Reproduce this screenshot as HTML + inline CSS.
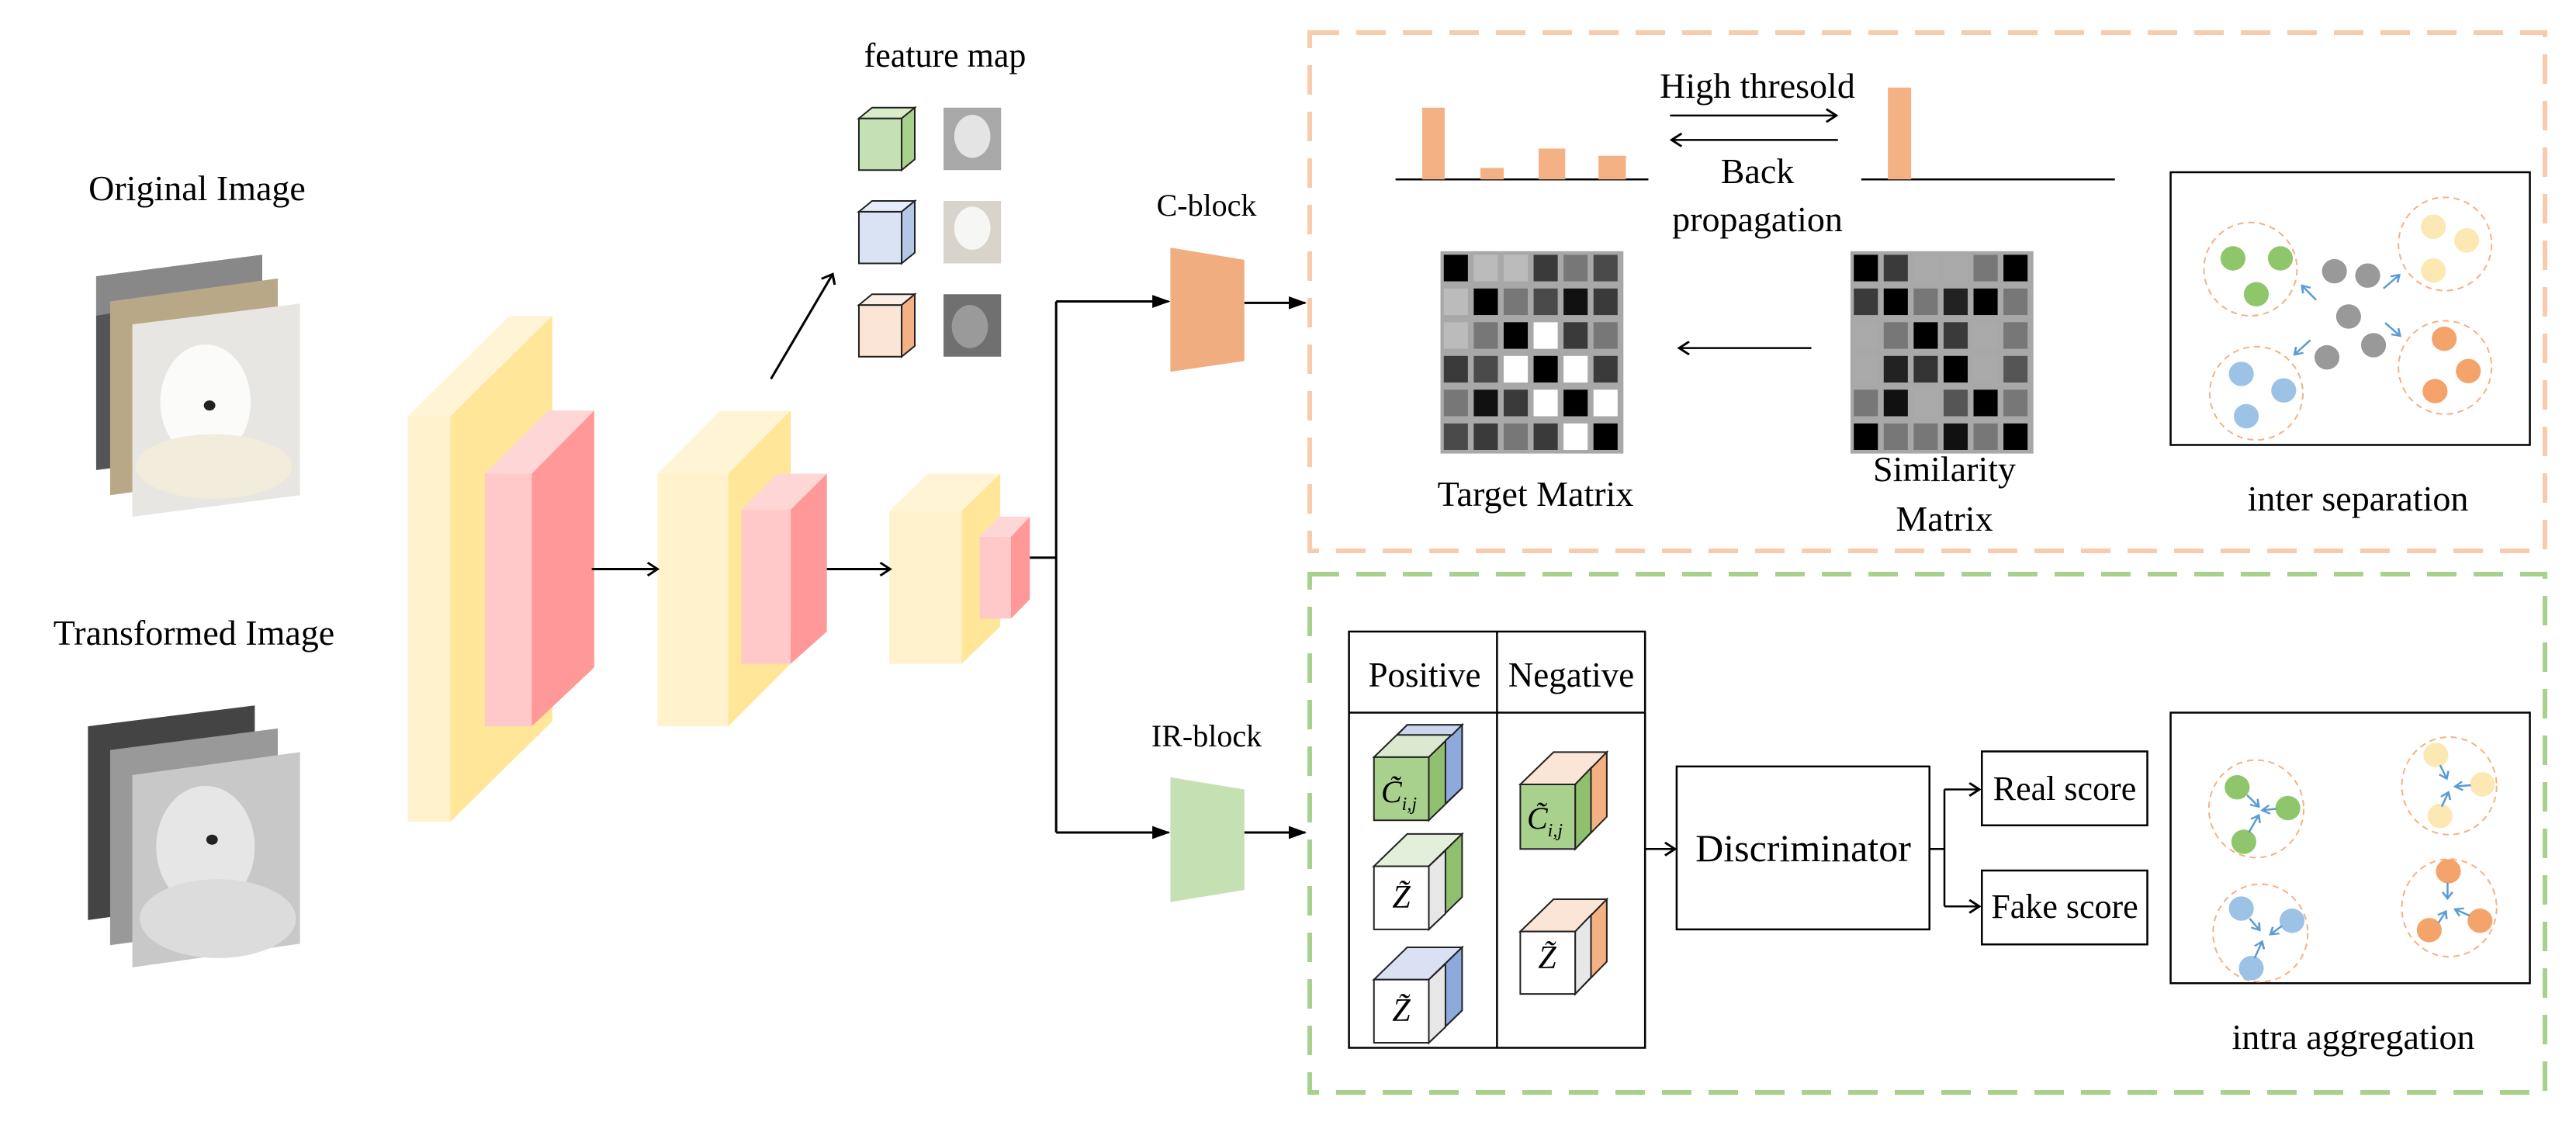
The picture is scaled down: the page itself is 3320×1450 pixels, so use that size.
<!DOCTYPE html>
<html><head><meta charset="utf-8"><style>
html,body{margin:0;padding:0;background:#fff;}
svg{display:block;}
svg text{font-family:"Liberation Serif","Times New Roman",Times,serif !important;fill:#000;}
</style></head><body>
<svg width="3320" height="1450" viewBox="0 0 3320 1450" xmlns="http://www.w3.org/2000/svg" font-family="'Liberation Serif', 'Times New Roman', serif">
<defs>
<marker id="fa" markerUnits="userSpaceOnUse" markerWidth="24" markerHeight="24" refX="20" refY="12" orient="auto"><path d="M0,3 L22,12 L0,21 Z" fill="#000"/></marker>
<marker id="oa" markerUnits="userSpaceOnUse" markerWidth="24" markerHeight="24" refX="18" refY="12" orient="auto"><path d="M6,3 L18,12 L6,21" fill="none" stroke="#000" stroke-width="3"/></marker>
<marker id="ba" markerUnits="userSpaceOnUse" markerWidth="16" markerHeight="16" refX="12" refY="8" orient="auto"><path d="M3,2 L12,8 L3,14" fill="none" stroke="#5b9bd5" stroke-width="2.5"/></marker>
</defs>

<g transform="scale(1.0593,0.925)">
 <polygon points="117,385 319,355 319,625 117,655" fill="#555"/>
 <polygon points="117,385 319,355 319,400 117,440" fill="#888"/>
 <polygon points="134,420 338,388 338,658 134,690" fill="#b8a888"/>
 <polygon points="161,452 365,423 365,690 161,720" fill="#e8e6e2"/>
 <ellipse cx="250" cy="560" rx="55" ry="80" fill="#fbfbf9"/>
 <ellipse cx="260" cy="650" rx="95" ry="45" fill="#f2ecdc"/>
 <circle cx="255" cy="565" r="7" fill="#222"/>
 <polygon points="107,1012 310,983 310,1250 107,1282" fill="#444"/>
 <polygon points="134,1045 338,1015 338,1285 134,1317" fill="#999"/>
 <polygon points="161,1080 365,1048 365,1315 161,1348" fill="#c8c8c8"/>
 <ellipse cx="250" cy="1180" rx="60" ry="85" fill="#e6e6e6"/>
 <ellipse cx="265" cy="1280" rx="95" ry="55" fill="#dcdcdc"/>
 <circle cx="258" cy="1170" r="7" fill="#222"/>

 <rect x="496" y="580" width="52" height="565" fill="#fff2cc"/>
 <polygon points="496,580 620,440 672,440 548,580" fill="#fff5d6"/>
 <polygon points="548,580 672,440 672,1005 548,1145" fill="#ffe699"/>
 <rect x="590" y="660" width="57" height="352" fill="#ffc9c9"/>
 <polygon points="590,660 667,572 723,572 647,660" fill="#ffd6d6"/>
 <polygon points="647,660 723,572 723,930 647,1012" fill="#ff9999"/>
 <rect x="800" y="660" width="86" height="352" fill="#fff2cc"/>
 <polygon points="800,660 876,572 962,572 886,660" fill="#fff5d6"/>
 <polygon points="886,660 962,572 962,925 886,1012" fill="#ffe699"/>
 <rect x="902" y="710" width="60" height="215" fill="#ffc9c9"/>
 <polygon points="902,710 946,660 1006,660 962,710" fill="#ffd6d6"/>
 <polygon points="962,710 1006,660 1006,880 962,925" fill="#ff9999"/>
 <rect x="1082" y="712" width="88" height="213" fill="#fff2cc"/>
 <polygon points="1082,712 1129,660 1217,660 1170,712" fill="#fff5d6"/>
 <polygon points="1170,712 1217,660 1217,873 1170,925" fill="#ffe699"/>
 <rect x="1192" y="748" width="38" height="114" fill="#ffc9c9"/>
 <polygon points="1192,748 1215,720 1253,720 1230,748" fill="#ffd6d6"/>
 <polygon points="1230,748 1253,720 1253,835 1230,862" fill="#ff9999"/>

 <g stroke="#222" stroke-width="2">
  <rect x="1045" y="165" width="52" height="72" fill="#c5e0b4" vector-effect="non-scaling-stroke"/>
  <polygon points="1045,165 1061,150 1113,150 1097,165" fill="#d9ecc9" vector-effect="non-scaling-stroke"/>
  <polygon points="1097,165 1113,150 1113,222 1097,237" fill="#a9d18e" vector-effect="non-scaling-stroke"/>
  <rect x="1045" y="295" width="52" height="72" fill="#dae3f3" vector-effect="non-scaling-stroke"/>
  <polygon points="1045,295 1061,280 1113,280 1097,295" fill="#e6ecf8" vector-effect="non-scaling-stroke"/>
  <polygon points="1097,295 1113,280 1113,352 1097,367" fill="#b4c7e7" vector-effect="non-scaling-stroke"/>
  <rect x="1045" y="425" width="52" height="72" fill="#fbe5d6" vector-effect="non-scaling-stroke"/>
  <polygon points="1045,425 1061,410 1113,410 1097,425" fill="#fdeee4" vector-effect="non-scaling-stroke"/>
  <polygon points="1097,425 1113,410 1113,482 1097,497" fill="#f4b183" vector-effect="non-scaling-stroke"/>
 </g>
 <rect x="1148" y="150" width="70" height="87" fill="#a8a8a8"/>
 <ellipse cx="1183" cy="190" rx="22" ry="30" fill="#e4e4e4"/>
 <rect x="1148" y="280" width="70" height="87" fill="#d8d4cc"/>
 <ellipse cx="1183" cy="318" rx="22" ry="30" fill="#f6f6f4"/>
 <rect x="1148" y="410" width="70" height="87" fill="#707070"/>
 <ellipse cx="1180" cy="455" rx="22" ry="30" fill="#9a9a9a"/>

 <g fill="none" stroke="#000" stroke-width="3">
  <line x1="720" y1="793" x2="800" y2="793" marker-end="url(#oa)" vector-effect="non-scaling-stroke"/>
  <line x1="1006" y1="793" x2="1083" y2="793" marker-end="url(#oa)" vector-effect="non-scaling-stroke"/>
  <line x1="938" y1="528" x2="1013" y2="382" marker-end="url(#oa)" vector-effect="non-scaling-stroke"/>
  <polyline points="1253,777 1285,777" vector-effect="non-scaling-stroke"/>
  <line x1="1285" y1="420" x2="1285" y2="1160" vector-effect="non-scaling-stroke"/>
  <line x1="1285" y1="420" x2="1422" y2="420" marker-end="url(#fa)" vector-effect="non-scaling-stroke"/>
  <line x1="1285" y1="1160" x2="1422" y2="1160" marker-end="url(#fa)" vector-effect="non-scaling-stroke"/>
  <line x1="1514" y1="422" x2="1588" y2="422" marker-end="url(#fa)" vector-effect="non-scaling-stroke"/>
  <line x1="1514" y1="1160" x2="1588" y2="1160" marker-end="url(#fa)" vector-effect="non-scaling-stroke"/>
 </g>
 <polygon points="1424,345 1514,362 1514,503 1424,518" fill="#f0ad7f"/>
 <polygon points="1424,1083 1514,1100 1514,1240 1424,1257" fill="#c5e0b3"/>
</g>

<text x="1218" y="86" font-size="44" text-anchor="middle">feature map</text>
<text x="254" y="258" font-size="46" text-anchor="middle">Original Image</text>
<text x="250" y="831" font-size="46" text-anchor="middle">Transformed Image</text>
<text x="1555" y="278" font-size="40" text-anchor="middle">C-block</text>
<text x="1555" y="962" font-size="40" text-anchor="middle">IR-block</text>

<rect x="1688" y="42" width="1592" height="668" fill="none" stroke="#f8cbad" stroke-width="6" stroke-dasharray="38 22"/>
<rect x="1688" y="740" width="1592" height="668" fill="none" stroke="#a9d18e" stroke-width="6" stroke-dasharray="38 22"/>

<g transform="translate(1640,0) scale(1.0718,0.925)">
 <g stroke="#000" stroke-width="2.5" fill="none">
  <line x1="148" y1="250" x2="452" y2="250" vector-effect="non-scaling-stroke"/>
  <line x1="708" y1="250" x2="1013" y2="250" vector-effect="non-scaling-stroke"/>
  <line x1="478" y1="161" x2="678" y2="161" marker-end="url(#oa)" vector-effect="non-scaling-stroke"/>
  <line x1="680" y1="195" x2="480" y2="195" marker-end="url(#oa)" vector-effect="non-scaling-stroke"/>
  <line x1="648" y1="485" x2="489" y2="485" marker-end="url(#oa)" vector-effect="non-scaling-stroke"/>
 </g>
 <g fill="#f4b183">
  <rect x="180" y="150" width="27" height="100"/>
  <rect x="250" y="234" width="28" height="16"/>
  <rect x="320" y="207" width="32" height="43"/>
  <rect x="392" y="217" width="33" height="33"/>
  <rect x="740" y="122" width="28" height="128"/>
 </g>
 <rect x="202" y="350" width="220" height="282" fill="#a8a8a8"/>
 <g transform="translate(202,350)">
  <rect x="4" y="5" width="29" height="37" fill="#000"/><rect x="40" y="5" width="29" height="37" fill="#bbb"/><rect x="76" y="5" width="29" height="37" fill="#bbb"/><rect x="112" y="5" width="29" height="37" fill="#3a3a3a"/><rect x="148" y="5" width="29" height="37" fill="#777"/><rect x="184" y="5" width="29" height="37" fill="#4a4a4a"/>
  <rect x="4" y="52" width="29" height="37" fill="#bbb"/><rect x="40" y="52" width="29" height="37" fill="#000"/><rect x="76" y="52" width="29" height="37" fill="#777"/><rect x="112" y="52" width="29" height="37" fill="#4a4a4a"/><rect x="148" y="52" width="29" height="37" fill="#111"/><rect x="184" y="52" width="29" height="37" fill="#3a3a3a"/>
  <rect x="4" y="99" width="29" height="37" fill="#bbb"/><rect x="40" y="99" width="29" height="37" fill="#777"/><rect x="76" y="99" width="29" height="37" fill="#000"/><rect x="112" y="99" width="29" height="37" fill="#fff"/><rect x="148" y="99" width="29" height="37" fill="#3a3a3a"/><rect x="184" y="99" width="29" height="37" fill="#777"/>
  <rect x="4" y="146" width="29" height="37" fill="#3a3a3a"/><rect x="40" y="146" width="29" height="37" fill="#4a4a4a"/><rect x="76" y="146" width="29" height="37" fill="#fff"/><rect x="112" y="146" width="29" height="37" fill="#000"/><rect x="148" y="146" width="29" height="37" fill="#fff"/><rect x="184" y="146" width="29" height="37" fill="#3a3a3a"/>
  <rect x="4" y="193" width="29" height="37" fill="#777"/><rect x="40" y="193" width="29" height="37" fill="#111"/><rect x="76" y="193" width="29" height="37" fill="#3a3a3a"/><rect x="112" y="193" width="29" height="37" fill="#fff"/><rect x="148" y="193" width="29" height="37" fill="#000"/><rect x="184" y="193" width="29" height="37" fill="#fff"/>
  <rect x="4" y="240" width="29" height="37" fill="#4a4a4a"/><rect x="40" y="240" width="29" height="37" fill="#3a3a3a"/><rect x="76" y="240" width="29" height="37" fill="#777"/><rect x="112" y="240" width="29" height="37" fill="#3a3a3a"/><rect x="148" y="240" width="29" height="37" fill="#fff"/><rect x="184" y="240" width="29" height="37" fill="#000"/>
 </g>
 <rect x="695" y="350" width="220" height="282" fill="#a8a8a8"/>
 <g transform="translate(695,350)">
  <rect x="4" y="5" width="29" height="37" fill="#000"/><rect x="40" y="5" width="29" height="37" fill="#3a3a3a"/><rect x="76" y="5" width="29" height="37" fill="#aaa"/><rect x="112" y="5" width="29" height="37" fill="#aaa"/><rect x="148" y="5" width="29" height="37" fill="#777"/><rect x="184" y="5" width="29" height="37" fill="#000"/>
  <rect x="4" y="52" width="29" height="37" fill="#3a3a3a"/><rect x="40" y="52" width="29" height="37" fill="#000"/><rect x="76" y="52" width="29" height="37" fill="#777"/><rect x="112" y="52" width="29" height="37" fill="#222"/><rect x="148" y="52" width="29" height="37" fill="#000"/><rect x="184" y="52" width="29" height="37" fill="#777"/>
  <rect x="4" y="99" width="29" height="37" fill="#aaa"/><rect x="40" y="99" width="29" height="37" fill="#777"/><rect x="76" y="99" width="29" height="37" fill="#000"/><rect x="112" y="99" width="29" height="37" fill="#3a3a3a"/><rect x="148" y="99" width="29" height="37" fill="#aaa"/><rect x="184" y="99" width="29" height="37" fill="#777"/>
  <rect x="4" y="146" width="29" height="37" fill="#aaa"/><rect x="40" y="146" width="29" height="37" fill="#222"/><rect x="76" y="146" width="29" height="37" fill="#333"/><rect x="112" y="146" width="29" height="37" fill="#000"/><rect x="148" y="146" width="29" height="37" fill="#aaa"/><rect x="184" y="146" width="29" height="37" fill="#555"/>
  <rect x="4" y="193" width="29" height="37" fill="#777"/><rect x="40" y="193" width="29" height="37" fill="#111"/><rect x="76" y="193" width="29" height="37" fill="#aaa"/><rect x="112" y="193" width="29" height="37" fill="#555"/><rect x="148" y="193" width="29" height="37" fill="#000"/><rect x="184" y="193" width="29" height="37" fill="#777"/>
  <rect x="4" y="240" width="29" height="37" fill="#000"/><rect x="40" y="240" width="29" height="37" fill="#777"/><rect x="76" y="240" width="29" height="37" fill="#777"/><rect x="112" y="240" width="29" height="37" fill="#111"/><rect x="148" y="240" width="29" height="37" fill="#777"/><rect x="184" y="240" width="29" height="37" fill="#000"/>
 </g>

 <rect x="1080" y="240" width="432" height="380" fill="#fff" stroke="#000" stroke-width="2.5" vector-effect="non-scaling-stroke"/>
 <g fill="none" stroke="#f4b183" stroke-width="2" stroke-dasharray="8 6">
  <ellipse cx="1176" cy="375" rx="56" ry="65" vector-effect="non-scaling-stroke"/>
  <ellipse cx="1410" cy="340" rx="56" ry="65" vector-effect="non-scaling-stroke"/>
  <ellipse cx="1183" cy="548" rx="56" ry="65" vector-effect="non-scaling-stroke"/>
  <ellipse cx="1410" cy="512" rx="56" ry="65" vector-effect="non-scaling-stroke"/>
 </g>
 <g>
  <ellipse cx="1155" cy="360" rx="15" ry="17" fill="#8fc66b"/><ellipse cx="1212" cy="360" rx="15" ry="17" fill="#8fc66b"/><ellipse cx="1183" cy="410" rx="15" ry="17" fill="#8fc66b"/>
  <ellipse cx="1396" cy="316" rx="15" ry="17" fill="#fbe8b3"/><ellipse cx="1436" cy="335" rx="15" ry="17" fill="#fbe8b3"/><ellipse cx="1396" cy="377" rx="15" ry="17" fill="#fbe8b3"/>
  <ellipse cx="1165" cy="521" rx="15" ry="17" fill="#9cc2e5"/><ellipse cx="1216" cy="544" rx="15" ry="17" fill="#9cc2e5"/><ellipse cx="1171" cy="580" rx="15" ry="17" fill="#9cc2e5"/>
  <ellipse cx="1409" cy="472" rx="15" ry="17" fill="#f4a46a"/><ellipse cx="1438" cy="517" rx="15" ry="17" fill="#f4a46a"/><ellipse cx="1398" cy="545" rx="15" ry="17" fill="#f4a46a"/>
  <ellipse cx="1277" cy="378" rx="15" ry="17" fill="#999"/><ellipse cx="1317" cy="384" rx="15" ry="17" fill="#999"/><ellipse cx="1294" cy="441" rx="15" ry="17" fill="#999"/><ellipse cx="1268" cy="498" rx="15" ry="17" fill="#999"/><ellipse cx="1324" cy="481" rx="15" ry="17" fill="#999"/>
 </g>
 <g stroke="#5b9bd5" stroke-width="2.5" fill="none">
  <line x1="1255" y1="418" x2="1238" y2="398" marker-end="url(#ba)" vector-effect="non-scaling-stroke"/>
  <line x1="1336" y1="402" x2="1355" y2="383" marker-end="url(#ba)" vector-effect="non-scaling-stroke"/>
  <line x1="1248" y1="474" x2="1229" y2="494" marker-end="url(#ba)" vector-effect="non-scaling-stroke"/>
  <line x1="1338" y1="450" x2="1356" y2="468" marker-end="url(#ba)" vector-effect="non-scaling-stroke"/>
 </g>

 <g fill="none" stroke="#000" stroke-width="2.5">
  <rect x="92" y="880" width="356" height="580" vector-effect="non-scaling-stroke"/>
  <line x1="92" y1="993" x2="448" y2="993" vector-effect="non-scaling-stroke"/>
  <line x1="270" y1="880" x2="270" y2="1460" vector-effect="non-scaling-stroke"/>
 </g>
 <g stroke="#222" stroke-width="2">
  <polygon points="122,1055 162,1010 228,1010 188,1055" fill="#dbe9d0" vector-effect="non-scaling-stroke"/>
  <polygon points="188,1055 228,1010 228,1098 188,1143" fill="#8fbf6f" vector-effect="non-scaling-stroke"/>
  <polygon points="208,1032 228,1010 228,1098 208,1120" fill="#8ea9db" vector-effect="non-scaling-stroke"/>
  <polygon points="150,1024 162,1010 228,1010 216,1024" fill="#c9d6ee" vector-effect="non-scaling-stroke"/>
  <rect x="122" y="1055" width="66" height="88" fill="#a9d18e" vector-effect="non-scaling-stroke"/>
  <polygon points="122,1207 162,1162 228,1162 188,1207" fill="#e2efda" vector-effect="non-scaling-stroke"/>
  <polygon points="188,1207 228,1162 228,1250 188,1295" fill="#8fbf6f" vector-effect="non-scaling-stroke"/>
  <polygon points="188,1207 208,1185 208,1273 188,1295" fill="#e7e7e7" vector-effect="non-scaling-stroke"/>
  <rect x="122" y="1207" width="66" height="88" fill="#fff" vector-effect="non-scaling-stroke"/>
  <polygon points="122,1365 162,1320 228,1320 188,1365" fill="#d9e1f2" vector-effect="non-scaling-stroke"/>
  <polygon points="188,1365 228,1320 228,1408 188,1453" fill="#8ea9db" vector-effect="non-scaling-stroke"/>
  <polygon points="188,1365 208,1343 208,1431 188,1453" fill="#e7e7e7" vector-effect="non-scaling-stroke"/>
  <rect x="122" y="1365" width="66" height="88" fill="#fff" vector-effect="non-scaling-stroke"/>
  <polygon points="298,1093 338,1048 402,1048 364,1093" fill="#fbe5d6" vector-effect="non-scaling-stroke"/>
  <polygon points="364,1093 402,1048 402,1138 364,1183" fill="#f4b183" vector-effect="non-scaling-stroke"/>
  <polygon points="364,1093 383,1070 383,1160 364,1183" fill="#8fbf6f" vector-effect="non-scaling-stroke"/>
  <rect x="298" y="1093" width="66" height="90" fill="#a9d18e" vector-effect="non-scaling-stroke"/>
  <polygon points="298,1298 338,1253 402,1253 364,1298" fill="#fbe5d6" vector-effect="non-scaling-stroke"/>
  <polygon points="364,1298 402,1253 402,1340 364,1385" fill="#f4b183" vector-effect="non-scaling-stroke"/>
  <polygon points="364,1298 383,1275 383,1362 364,1385" fill="#e7e7e7" vector-effect="non-scaling-stroke"/>
  <rect x="298" y="1298" width="66" height="87" fill="#fff" vector-effect="non-scaling-stroke"/>
 </g>

 <g fill="none" stroke="#000" stroke-width="2.5">
  <line x1="448" y1="1183" x2="484" y2="1183" marker-end="url(#oa)" vector-effect="non-scaling-stroke"/>
  <rect x="486" y="1068" width="304" height="227" fill="#fff" vector-effect="non-scaling-stroke"/>
  <line x1="790" y1="1183" x2="808" y2="1183" vector-effect="non-scaling-stroke"/>
  <line x1="808" y1="1100" x2="808" y2="1263" vector-effect="non-scaling-stroke"/>
  <line x1="808" y1="1100" x2="850" y2="1100" marker-end="url(#oa)" vector-effect="non-scaling-stroke"/>
  <line x1="808" y1="1263" x2="850" y2="1263" marker-end="url(#oa)" vector-effect="non-scaling-stroke"/>
  <rect x="853" y="1047" width="199" height="103" vector-effect="non-scaling-stroke"/>
  <rect x="853" y="1213" width="199" height="103" vector-effect="non-scaling-stroke"/>
  <rect x="1080" y="993" width="432" height="377" vector-effect="non-scaling-stroke"/>
 </g>
 <g fill="none" stroke="#f4b183" stroke-width="2" stroke-dasharray="8 6">
  <ellipse cx="1183" cy="1127" rx="57" ry="68" vector-effect="non-scaling-stroke"/>
  <ellipse cx="1415" cy="1095" rx="57" ry="68" vector-effect="non-scaling-stroke"/>
  <ellipse cx="1188" cy="1300" rx="57" ry="68" vector-effect="non-scaling-stroke"/>
  <ellipse cx="1415" cy="1265" rx="57" ry="68" vector-effect="non-scaling-stroke"/>
 </g>
 <g>
  <ellipse cx="1160" cy="1097" rx="15" ry="17" fill="#8fc66b"/><ellipse cx="1221" cy="1126" rx="15" ry="17" fill="#8fc66b"/><ellipse cx="1168" cy="1173" rx="15" ry="17" fill="#8fc66b"/>
  <ellipse cx="1399" cy="1052" rx="15" ry="17" fill="#fbe8b3"/><ellipse cx="1455" cy="1093" rx="15" ry="17" fill="#fbe8b3"/><ellipse cx="1404" cy="1137" rx="15" ry="17" fill="#fbe8b3"/>
  <ellipse cx="1165" cy="1266" rx="15" ry="17" fill="#9cc2e5"/><ellipse cx="1226" cy="1283" rx="15" ry="17" fill="#9cc2e5"/><ellipse cx="1177" cy="1349" rx="15" ry="17" fill="#9cc2e5"/>
  <ellipse cx="1414" cy="1214" rx="15" ry="17" fill="#f4a46a"/><ellipse cx="1452" cy="1283" rx="15" ry="17" fill="#f4a46a"/><ellipse cx="1391" cy="1296" rx="15" ry="17" fill="#f4a46a"/>
 </g>
 <g stroke="#5b9bd5" stroke-width="2.5" fill="none">
  <line x1="1172" y1="1108" x2="1186" y2="1124" marker-end="url(#ba)" vector-effect="non-scaling-stroke"/>
  <line x1="1207" y1="1127" x2="1190" y2="1129" marker-end="url(#ba)" vector-effect="non-scaling-stroke"/>
  <line x1="1174" y1="1160" x2="1186" y2="1136" marker-end="url(#ba)" vector-effect="non-scaling-stroke"/>
  <line x1="1404" y1="1066" x2="1412" y2="1085" marker-end="url(#ba)" vector-effect="non-scaling-stroke"/>
  <line x1="1441" y1="1094" x2="1422" y2="1096" marker-end="url(#ba)" vector-effect="non-scaling-stroke"/>
  <line x1="1406" y1="1124" x2="1414" y2="1104" marker-end="url(#ba)" vector-effect="non-scaling-stroke"/>
  <line x1="1175" y1="1280" x2="1187" y2="1296" marker-end="url(#ba)" vector-effect="non-scaling-stroke"/>
  <line x1="1214" y1="1290" x2="1200" y2="1302" marker-end="url(#ba)" vector-effect="non-scaling-stroke"/>
  <line x1="1181" y1="1335" x2="1190" y2="1312" marker-end="url(#ba)" vector-effect="non-scaling-stroke"/>
  <line x1="1413" y1="1230" x2="1413" y2="1252" marker-end="url(#ba)" vector-effect="non-scaling-stroke"/>
  <line x1="1440" y1="1276" x2="1422" y2="1267" marker-end="url(#ba)" vector-effect="non-scaling-stroke"/>
  <line x1="1402" y1="1286" x2="1411" y2="1270" marker-end="url(#ba)" vector-effect="non-scaling-stroke"/>
 </g>
</g>

<text x="2265" y="126" font-size="46" text-anchor="middle">High thresold</text>
<text x="2265" y="236" font-size="46" text-anchor="middle">Back</text>
<text x="2265" y="298" font-size="46" text-anchor="middle">propagation</text>
<text x="1979" y="652" font-size="46" text-anchor="middle">Target Matrix</text>
<text x="2506" y="620" font-size="46" text-anchor="middle">Similarity</text>
<text x="2506" y="684" font-size="46" text-anchor="middle">Matrix</text>
<text x="3039" y="658" font-size="46" text-anchor="middle">inter separation</text>
<text x="1836" y="885" font-size="45" text-anchor="middle">Positive</text>
<text x="2025" y="885" font-size="45" text-anchor="middle">Negative</text>
<text x="2324" y="1110" font-size="50" text-anchor="middle">Discriminator</text>
<text x="2661" y="1031" font-size="44" text-anchor="middle">Real score</text>
<text x="2661" y="1183" font-size="44" text-anchor="middle">Fake score</text>
<text x="3033" y="1352" font-size="46" text-anchor="middle">intra aggregation</text>
<text x="1803" y="1034" font-size="40" font-style="italic" text-anchor="middle">C̃<tspan font-size="24" dy="10">i,j</tspan></text>
<text x="1991" y="1068" font-size="40" font-style="italic" text-anchor="middle">C̃<tspan font-size="24" dy="10">i,j</tspan></text>
<text x="1806" y="1170" font-size="42" font-style="italic" text-anchor="middle">Z̃</text>
<text x="1806" y="1316" font-size="42" font-style="italic" text-anchor="middle">Z̃</text>
<text x="1994" y="1248" font-size="42" font-style="italic" text-anchor="middle">Z̃</text>
</svg>
</body></html>
